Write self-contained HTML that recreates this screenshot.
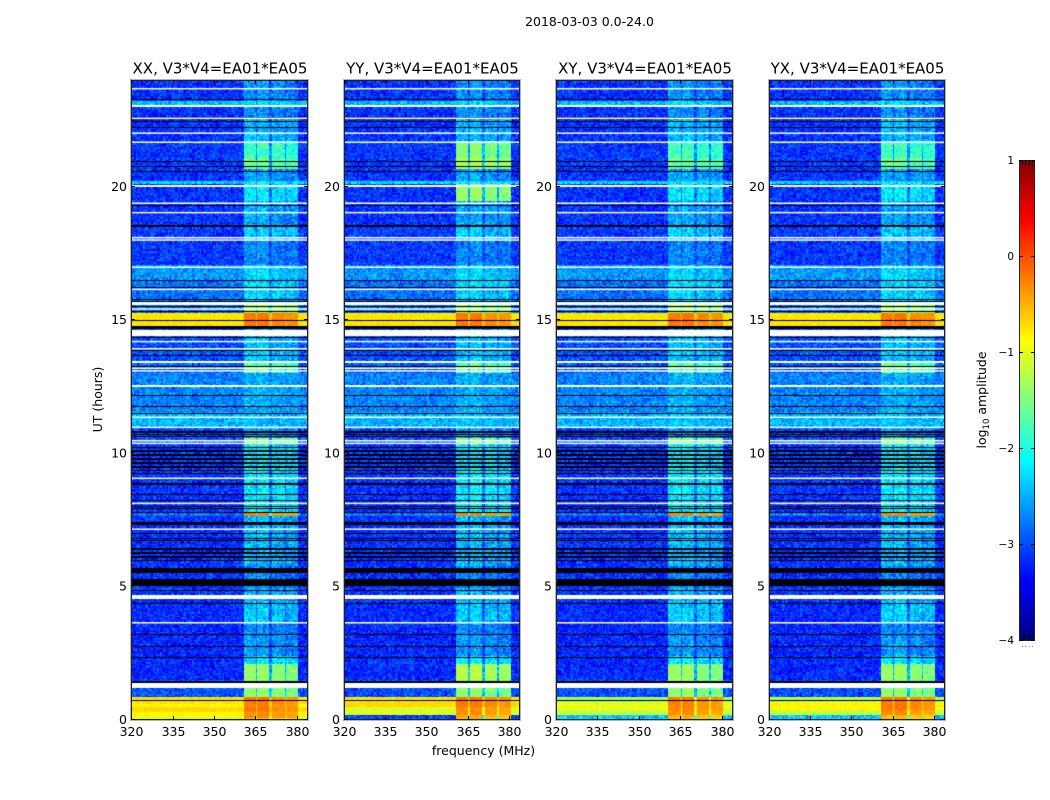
<!DOCTYPE html>
<html>
<head>
<meta charset="utf-8">
<title>2018-03-03 spectrograms</title>
<style>
html,body{margin:0;padding:0;background:#fff;}
#figure{position:relative;width:1050px;height:800px;overflow:hidden;background:#fff;font-family:"DejaVu Sans","Liberation Sans",sans-serif;}
canvas{position:absolute;}
#overlay{position:absolute;left:0;top:0;}
#overlay text{font-family:"DejaVu Sans","Liberation Sans",sans-serif;fill:#000;}
</style>
</head>
<body>
<div id="figure">
<svg id="overlay" width="1050" height="800"></svg>
</div>
<script>
// ---- Chart data ----
const panelTitles = ["XX, V3*V4=EA01*EA05","YY, V3*V4=EA01*EA05","XY, V3*V4=EA01*EA05","YX, V3*V4=EA01*EA05"];
const freqTicks = [320,335,350,365,380];
const hourTicks = [0,5,10,15,20];
const colorTicks = [-4,-3,-2,-1,0,1];

// Time bands: start hour, background log10 amplitude, log10 amplitude inside the signal blocks.
const bandStart = [0,0.05,0.3,0.45,0.6,0.8,1.18,1.46,2.1,2.35,3.2,3.63,4.4,4.9,5.7,7.58,7.68,9.0,10.3,10.55,10.96,11.5,12.5,13.0,13.4,14.65,15.2,15.7,16.5,17.0,18.0,18.5,19.0,19.4,20.05,20.2,20.6,21.0,21.7,22.5,22.98,23.2];
const bandBackground = [-1.2,-0.85,-0.7,-0.85,-0.75,-3.0,-3.0,-3.2,-3.2,-3.2,-3.2,-3.2,-3.12,-3.15,-3.15,-2.8,-3.15,-3.12,-3.0,-3.05,-2.5,-2.75,-2.75,-2.95,-3.0,-0.75,-2.85,-2.85,-2.65,-3.12,-3.1,-3.15,-3.15,-3.15,-2.35,-3.15,-3.12,-3.12,-3.15,-3.15,-2.45,-3.15];
const bandBlock = [-0.6,-0.4,-0.3,-0.35,-0.3,-1.5,-1.5,-1.45,-2.3,-2.7,-2.8,-2.45,-2.6,-2.8,-2.55,-0.35,-2.3,-2.3,-1.5,-2.7,-2.5,-2.6,-2.6,-1.7,-2.5,-0.3,-1.4,-2.4,-2.4,-2.8,-2.45,-2.65,-2.6,-2.3,-2.3,-2.65,-1.7,-1.9,-2.55,-2.75,-2.4,-2.75];

// Panel-specific differences from the shared bands (panel index, hour range, levels).
const overridePanel = [1,1,1,1,1,1,1,2,2,2,2,3,3,3,3];
const overrideStart = [0,0.18,0.45,1.46,19.4,20.6,21.0,0,0.18,0.35,0.62,0,0.18,0.35,0.62];
const overrideEnd = [0.18,0.45,0.62,2.1,20.05,21.0,21.7,0.18,0.35,0.62,0.8,0.18,0.35,0.62,0.8];
const overrideBackground = [-3.1,-1.05,-0.7,-3.2,-3.15,-3.12,-3.12,-2.4,-1.15,-1.0,-1.3,-2.4,-1.15,-0.85,-1.2];
const overrideBlock = [-0.55,-0.4,-0.3,-1.3,-1.45,-1.35,-1.55,-0.6,-0.4,-0.35,-0.3,-0.6,-0.4,-0.3,-0.3];

// Frequency blocks (MHz) and their relative brightness.
const blockStart = [360.6,365.5,370.8,375.8];
const blockEnd = [365.0,369.9,375.1,380.2];
const blockGain = [0.08,0.1,0,-0.05];

// Flagged data: white = missing, black = zero.
const whiteLineHours = [23.67,22.56,22.0,21.66,19.37,19.02,18.08,17.99,16.97,16.14,15.40,14.18,13.91,13.18,13.08,11.34,10.96,10.46,10.36,9.05,8.11,7.14,3.63];
const whiteBandStart = [22.99,19.99,15.55,14.39,13.38,12.48,4.54,4.61,1.18];
const whiteBandEnd = [23.05,20.06,15.67,14.63,13.44,12.55,4.58,4.66,1.37];
const blackLineHours = [22.62,22.47,22.24,20.95,20.77,20.57,19.31,16.49,16.24,15.77,15.7,15.5,15.33,14.99,14.36,13.87,13.68,13.27,12.18,11.78,11.5,10.84,10.77,10.71,10.64,10.21,10.13,10.06,9.98,9.91,9.83,9.76,9.68,9.61,9.53,9.46,9.36,9.25,8.89,8.82,8.46,8.24,8.01,7.94,7.80,7.01,6.82,6.74,6.45,6.38,6.30,6.23,6.15,6.08,5.98,4.86,4.38,3.2,2.77,2.35,0.73];
const blackBandStart = [23.24,18.49,14.65,7.30,5.49,5.02,1.38];
const blackBandEnd = [23.30,18.57,14.76,7.41,5.67,5.26,1.46];

// Fine grain texture applied to each cell (illustrative, not read from the picture).
const speckle = [0.2,-0.5,0.7,-0.1,0.4,-0.8,0.1,0.9,-0.3,0.5,-0.6,0.0,0.8,-0.9,0.3,-0.2,0.6,-0.4,1.0,-0.7,0.2,-0.1,0.5,-1.0,0.4,0.1,-0.6,0.7,-0.3,0.9,-0.5,0.0,0.3,-0.8,0.6,-0.2,0.1];

// Colorbar minor tick fractions across its width.
const cbarMinor = [0.2,0.4,0.6,0.8];

// ---- Layout ----
const plotLeft = 131.3, plotStep = 212.4, plotWidth = 176.6, plotTop = 79.9, plotHeight = 639.6;
const canvasTop = 80, canvasHeight = 640;
const freqMin = 320, freqMax = 384, hourMin = 0, hourMax = 24;
const cbarLeft = 1019, cbarWidth = 16, cbarTop = 160, cbarHeight = 480, cbarMin = -4, cbarMax = 1;
const freqStep = 0.55, hourStep = 0.06;
const SVGNS = "http://www.w3.org/2000/svg";
const figure = document.getElementById("figure");
const overlay = document.getElementById("overlay");

function xScale(mhz, panel){ return plotLeft + panel*plotStep + (mhz-freqMin)/(freqMax-freqMin)*plotWidth; }
function yScale(hour){ return plotTop + plotHeight - (hour-hourMin)/(hourMax-hourMin)*plotHeight; }
function cbarScale(v){ return cbarTop + cbarHeight - (v-cbarMin)/(cbarMax-cbarMin)*cbarHeight; }

function clamp01(v){ return Math.max(0, Math.min(1, v)); }
function jet(t){
  t = clamp01(t);
  const r = clamp01(Math.min(4*t-1.5, -4*t+4.5));
  const g = clamp01(Math.min(4*t-0.5, -4*t+3.5));
  const b = clamp01(Math.min(4*t+0.5, -4*t+2.5));
  return "rgb("+Math.round(r*255)+","+Math.round(g*255)+","+Math.round(b*255)+")";
}
function amplitudeColor(v){ return jet((v-cbarMin)/(cbarMax-cbarMin)); }

function levelsAt(hour, panel){
  let idx = 0;
  for(let k=0;k<bandStart.length;k++){ if(hour>=bandStart[k]) idx = k; }
  let bg = bandBackground[idx], block = bandBlock[idx];
  for(let k=0;k<overridePanel.length;k++){
    if(overridePanel[k]===panel && hour>=overrideStart[k] && hour<overrideEnd[k]){
      bg = overrideBackground[k];
      block = overrideBlock[k];
    }
  }
  return [bg, block];
}
function cellValue(mhz, bg, block){
  if(mhz < blockStart[0] || mhz > blockEnd[blockEnd.length-1]) return bg;
  for(let k=0;k<blockStart.length;k++){
    if(mhz>=blockStart[k] && mhz<=blockEnd[k]) return block + blockGain[k];
  }
  return bg + (block-bg)*0.4;
}
function grainIndex(row, col, panel){
  let n = (row*7919 + col*104729 + panel*1299709) >>> 0;
  n = (n ^ (n >>> 7)) >>> 0;
  n = (n * 2654435761) >>> 0;
  n = (n ^ (n >>> 13)) >>> 0;
  return n % speckle.length;
}

function drawPanel(panel){
  const cv = document.createElement("canvas");
  
  
  const left = Math.round(xScale(freqMin,panel));
  const w = Math.round(xScale(freqMax,panel)) - left;
  cv.width = w; cv.height = canvasHeight;
  cv.style.left = left + "px"; cv.style.top = canvasTop + "px";
  figure.insertBefore(cv, overlay);
  const c = cv.getContext("2d");
  let rowIdx = 0;
  for(let h=hourMin; h<hourMax; h+=hourStep, rowIdx++){
    const lv = levelsAt(h, panel);
    const yb = Math.round(yScale(h)) - canvasTop;
    const yt = Math.round(yScale(h+hourStep)) - canvasTop;
    let colIdx = 0;
    for(let f=freqMin; f<freqMax; f+=freqStep, colIdx++){
      let v = cellValue(f, lv[0], lv[1]);
      const grain = v > -1.5 ? 0.09 : 0.36;
      v += grain * speckle[grainIndex(rowIdx, colIdx, panel)];
      const x0 = Math.round(xScale(f,panel)) - left;
      const x1 = Math.round(xScale(f+freqStep,panel)) - left;
      c.fillStyle = amplitudeColor(v);
      c.fillRect(x0, yt, Math.max(1,x1-x0), Math.max(1,yb-yt));
    }
  }
  function band(a, b, color){
    const y0 = Math.round(yScale(b)) - canvasTop;
    const y1 = Math.round(yScale(a)) - canvasTop;
    c.fillStyle = color;
    c.fillRect(0, y0, w, Math.max(1,y1-y0));
  }
  blackLineHours.forEach(function(h){
    c.fillStyle = "#000";
    c.fillRect(0, Math.round(yScale(h)) - canvasTop, w, 1);
  });
  blackBandStart.forEach(function(a,i){ band(a, blackBandEnd[i], "#000"); });
  whiteLineHours.forEach(function(h){
    c.fillStyle = "#fff";
    c.fillRect(0, yScale(h) - canvasTop - 0.75, w, 1.5);
  });
  whiteBandStart.forEach(function(a,i){ band(a, whiteBandEnd[i], "#fff"); });
}

function svgText(str, x, y, size, anchor){
  const t = document.createElementNS(SVGNS,"text");
  t.textContent = str;
  t.setAttribute("x", x);
  t.setAttribute("y", y);
  t.setAttribute("font-size", size);
  t.setAttribute("text-anchor", anchor);
  overlay.appendChild(t);
  return t;
}
function svgLine(x1,y1,x2,y2,color){
  const l = document.createElementNS(SVGNS,"line");
  l.setAttribute("x1",x1); l.setAttribute("y1",y1);
  l.setAttribute("x2",x2); l.setAttribute("y2",y2);
  l.setAttribute("stroke",color);
  l.setAttribute("stroke-width",1);
  l.setAttribute("shape-rendering","crispEdges");
  overlay.appendChild(l);
  return l;
}
function svgFrame(x,y,w,h,color){
  const r = document.createElementNS(SVGNS,"rect");
  r.setAttribute("x",x); r.setAttribute("y",y);
  r.setAttribute("width",w); r.setAttribute("height",h);
  r.setAttribute("fill","none");
  r.setAttribute("stroke",color);
  r.setAttribute("shape-rendering","crispEdges");
  overlay.appendChild(r);
  return r;
}

function drawAxes(panel){
  const left = Math.round(xScale(freqMin,panel));
  const right = Math.round(xScale(freqMax,panel));
  const halo = svgFrame(left-0.5, canvasTop-0.5, right-left+1, canvasHeight+1, "#b4b4b4");
  
  
  const frame = svgFrame(left+0.5, canvasTop+0.5, right-left-1, canvasHeight-1, "#222");
  
  

  const title = svgText(panelTitles[panel], (left+right)/2 + 0.5, 73.5, 15, "middle");
  
  

  freqTicks.forEach(function(f){
    const x = Math.round(xScale(f,panel))+0.5;
    const tb = svgLine(x, canvasTop+canvasHeight, x, canvasTop+canvasHeight-4, "#000");
    
    
    const tt = svgLine(x, canvasTop, x, canvasTop+4, "#000");
    
    
    const lab = svgText(String(f), x, 736, 12.5, "middle");
    
    
  });
  hourTicks.forEach(function(h){
    const y = Math.round(yScale(h))-0.5;
    const tl = svgLine(left, y, left+4, y, "#000");
    
    
    const tr = svgLine(right, y, right-4, y, "#000");
    
    
    const lab = svgText(String(h), left-4, yScale(h)+4.4, 12.5, "end");
    
    
  });
}

function drawColorbar(){
  const cv = document.createElement("canvas");
  
  
  cv.width = cbarWidth; cv.height = cbarHeight;
  cv.style.left = cbarLeft + "px"; cv.style.top = cbarTop + "px";
  figure.insertBefore(cv, overlay);
  const c = cv.getContext("2d");
  for(let p=0;p<cbarHeight;p++){
    const v = cbarMax - (p+0.5)/cbarHeight*(cbarMax-cbarMin);
    c.fillStyle = amplitudeColor(v);
    c.fillRect(0,p,cbarWidth,1);
  }
  const frame = svgFrame(cbarLeft+0.5, cbarTop+0.5, cbarWidth-1, cbarHeight, "#222");
  
  
  colorTicks.forEach(function(v){
    const y = Math.round(cbarScale(v))+0.5;
    const a = svgLine(cbarLeft, y, cbarLeft+4, y, "#000");
    
    
    const b = svgLine(cbarLeft+cbarWidth, y, cbarLeft+cbarWidth-4, y, "#000");
    
    
    const lab = svgText(v<0 ? "\u2212"+Math.abs(v) : String(v), cbarLeft-5, y+3.5, 10.5, "end");
    
    
  });
  cbarMinor.forEach(function(frac){
    const x = Math.round(cbarLeft + frac*cbarWidth)+0.5;
    const t = svgLine(x, cbarTop, x, cbarTop+5, "#000");
    
    
    const b = svgLine(x, cbarTop+cbarHeight, x, cbarTop+cbarHeight-5, "#000");
    
    
    const d = svgLine(x, cbarTop+cbarHeight+6, x, cbarTop+cbarHeight+7, "#888");
    
    
  });
}

for(let p=0;p<panelTitles.length;p++){ drawPanel(p); }
for(let p=0;p<panelTitles.length;p++){ drawAxes(p); }
drawColorbar();

const suptitle = svgText("2018-03-03 0.0-24.0", 589.5, 26, 12.5, "middle");



const xAxisTitle = svgText("frequency (MHz)", 483.5, 755, 12.5, "middle");



const yAxisTitle = svgText("UT (hours)", 0, 0, 12.5, "middle");
yAxisTitle.setAttribute("transform","translate(102,399.5) rotate(-90)");



const cbarTitle = svgText("", 0, 0, 12.5, "middle");
cbarTitle.setAttribute("transform","translate(986,400) rotate(-90)");


const cbLog = document.createElementNS(SVGNS,"tspan");
cbLog.textContent = "log";
cbarTitle.appendChild(cbLog);
const cbSub = document.createElementNS(SVGNS,"tspan");
cbSub.textContent = "10";
cbSub.setAttribute("font-size","8.5");
cbSub.setAttribute("dy","3");
cbarTitle.appendChild(cbSub);
const cbRest = document.createElementNS(SVGNS,"tspan");
cbRest.textContent = " amplitude";
cbRest.setAttribute("dy","-3");
cbarTitle.appendChild(cbRest);
</script>
</body>
</html>
